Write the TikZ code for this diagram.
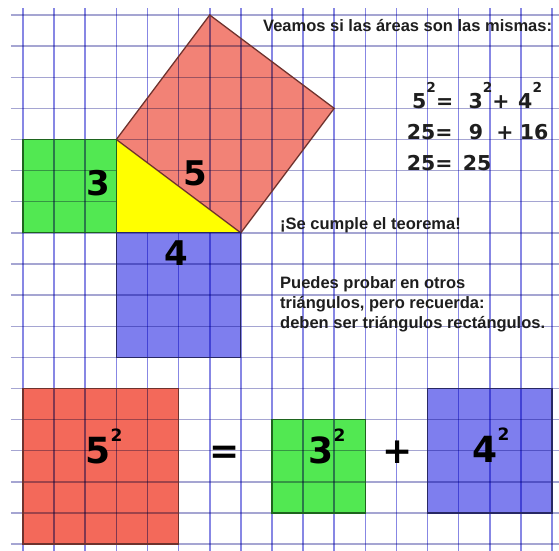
\documentclass[tikz,border=0pt]{standalone}
\usepackage{fontspec}
\setmainfont{Liberation Sans}
\newfontfamily\dv{DejaVu Sans}
\definecolor{hgridc}{RGB}{165,165,210}
\definecolor{vgridc}{RGB}{135,135,228}
\definecolor{redtop}{RGB}{242,130,118}
\definecolor{redbot}{RGB}{243,105,90}
\definecolor{greenc}{RGB}{82,232,82}
\definecolor{bluec}{RGB}{126,126,238}
\definecolor{yellowc}{RGB}{255,255,0}
\definecolor{redline}{RGB}{110,50,45}
\definecolor{greenline}{RGB}{30,100,30}
\definecolor{blueline}{RGB}{40,40,100}
\definecolor{txtc}{RGB}{30,30,30}
\newcommand\sqA{\raisebox{16pt}{\fontsize{13.7}{13.7}\selectfont 2}}
\newcommand\sqB{\raisebox{22pt}{\fontsize{17}{17}\selectfont 2}}
\begin{document}
\begin{tikzpicture}[x=1pt,y=-1pt,
  hgrid/.style={line width=1.4pt, draw=hgridc},
  vgrid/.style={line width=1.6pt, draw=vgridc},
  edgeline/.style={line width=1.3pt},
  bigtop/.style={font=\dv\bfseries\fontsize{34}{34}\selectfont, inner sep=0pt, anchor=base, text=black},
  bigbot/.style={font=\dv\bfseries\fontsize{36}{36}\selectfont, inner sep=0pt, anchor=base, text=black},
  opsym/.style={font=\dv\bfseries\fontsize{36}{36}\selectfont, inner sep=0pt, anchor=center, text=black},
  eqn/.style={font=\dv\bfseries\fontsize{20.5}{20.5}\selectfont, inner sep=0pt, anchor=base west, text=txtc},
  txt/.style={font=\bfseries\fontsize{16.5}{20}\selectfont, inner sep=0pt, anchor=base west, text=txtc},
]
\useasboundingbox (0,0) rectangle (559,550);
\clip (0,0) rectangle (559,550);
\fill[white] (0,0) rectangle (559,550);
\begin{scope}[shift={(23,15)}, x=31.12pt, y=-31.12pt]
  % fills
  \fill[redtop] (3,4) -- (7,7) -- (10,3) -- (6,0) -- cycle;
  \fill[greenc] (0,4) rectangle (3,7);
  \fill[bluec] (3,7) rectangle (7,11);
  \fill[redbot] (0,12) rectangle (5,17);
  \fill[greenc] (8,13) rectangle (11,16);
  \fill[bluec] (13,12) rectangle (17,16);
  % grid
  \begin{scope}[blend mode=multiply]
    \foreach \j in {0,...,17} \draw[hgrid] (-0.386,\j) -- (17.5,\j);
    \foreach \i in {0,...,17} \draw[vgrid] (\i,-0.225) -- (\i,17.5);
  \end{scope}
  % triangle
  \fill[yellowc] (3,4) -- (3,7) -- (7,7) -- cycle;
  % outlines
  \draw[edgeline, draw=redline] (3,4) -- (7,7) -- (10,3) -- (6,0) -- cycle;
  \draw[edgeline, draw=greenline] (0,4) rectangle (3,7);
  \draw[edgeline, draw=blueline] (3,7) rectangle (7,11);
  \draw[edgeline, draw=redline] (0,12) rectangle (5,17);
  \draw[edgeline, draw=greenline] (8,13) rectangle (11,16);
  \draw[edgeline, draw=blueline] (13,12) rectangle (17,16);
\end{scope}
% labels in the figure
\node[bigtop] (lab3) at (98,195) {3};
\node[bigtop] (lab5) at (195,185) {5};
\node[bigtop] (lab4) at (176,265) {4};
% bottom equation
\node[bigbot] (bot5) at (98,463) {5\rlap{\sqB}};
\node[opsym] (boteq) at (225,455) {=};
\node[bigbot] (bot3) at (321,463) {3\rlap{\sqB}};
\node[opsym] (botplus) at (398,452) {+};
\node[bigbot] (bot4) at (485,462) {4\rlap{\sqB}};
% texts
\node[txt] (title) at (263,31) {Veamos si las áreas son las mismas:};
\node[eqn] (eqa) at (412,108) {5\sqA=\hspace{15.5pt}3\sqA+\hspace{8.6pt}4\sqA};
\node[eqn] (eqb) at (406.6,139) {25=\hspace{16.4pt}9\hspace{13.2pt}+\hspace{6.3pt}16};
\node[eqn] (eqc) at (406.6,170) {25=\hspace{10.3pt}25};
\node[txt] (cumple) at (280,229) {¡Se cumple el teorema!};
\node[txt] (puedesa) at (280,288) {Puedes probar en otros};
\node[txt] (puedesb) at (280,308) {triángulos, pero recuerda:};
\node[txt] (puedesc) at (280,328) {deben ser triángulos rectángulos.};
\end{tikzpicture}
\end{document}
